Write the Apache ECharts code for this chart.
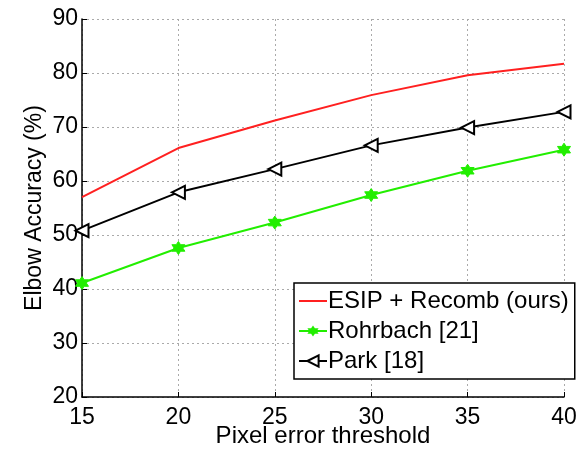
<!DOCTYPE html>
<html>
<head>
<meta charset="utf-8">
<script src="https://cdn.jsdelivr.net/npm/echarts@6/dist/echarts.min.js"></script>
<style>
  html, body { margin: 0; padding: 0; background: #fff; }
  #main { width: 583px; height: 450px; }
</style>
</head>
<body>
<div id="main"></div>
<script>
// 数据
var thresholds = [15, 20, 25, 30, 35, 40];
var esipRecomb = [57.0, 66.1, 71.2, 75.9, 79.6, 81.7];
var rohrbach = [41.1, 47.6, 52.3, 57.4, 61.9, 65.8];
var park = [50.8, 57.9, 62.2, 66.6, 69.9, 72.8];

var seriesNames = ['ESIP + Recomb (ours)', 'Rohrbach [21]', 'Park [18]'];

var font = 'Liberation Sans, Arial, sans-serif';
var hexagram = 'path://M0,-10L2.9,-5L8.66,-5L5.8,0L8.66,5L2.9,5L0,10L-2.9,5L-8.66,5L-5.8,0L-8.66,-5L-2.9,-5Z';

function pairs(vals) {
    return thresholds.map(function (x, i) { return [x, vals[i]]; });
}

var myChart = echarts.init(document.getElementById('main'));
var option = {
    animation: false,
    grid: { left: 82, right: 19, top: 19, bottom: 53, containLabel: false, outerBoundsMode: 'none' },
    legend: {
        orient: 'vertical',
        left: 294,
        top: 283,
        width: 279,
        padding: [6, 6, 6, 4],
        borderColor: '#000',
        borderWidth: 1.5,
        backgroundColor: '#fff',
        itemWidth: 28,
        itemHeight: 14,
        itemGap: 6,
        textStyle: { fontFamily: font, fontSize: 24, color: '#000', padding: [0, 0, 0, -4] },
        data: [
            { name: seriesNames[0], itemStyle: { opacity: 0 } },
            { name: seriesNames[1] },
            { name: seriesNames[2] }
        ]
    },
    xAxis: {
        type: 'value',
        min: 15, max: 40, interval: 5,
        name: 'Pixel error threshold',
        nameLocation: 'middle',
        nameGap: 27,
        nameMoveOverlap: false,
        nameTextStyle: { fontFamily: font, fontSize: 24, color: '#000' },
        axisLine: { lineStyle: { color: '#000', width: 1.5 } },
        axisTick: { inside: true, length: 5, lineStyle: { color: '#000' } },
        axisLabel: { fontFamily: font, fontSize: 23, color: '#000', margin: 9 },
        splitLine: { show: true, lineStyle: { color: '#aaa', type: [2, 3], width: 1 } }
    },
    yAxis: {
        type: 'value',
        min: 20, max: 90, interval: 10,
        name: 'Elbow Accuracy (%)',
        nameLocation: 'middle',
        nameGap: 36,
        nameMoveOverlap: false,
        nameTextStyle: { fontFamily: font, fontSize: 23, color: '#000' },
        axisLine: { show: true, lineStyle: { color: '#000', width: 1.5 } },
        axisTick: { show: true, inside: true, length: 5, lineStyle: { color: '#000' } },
        axisLabel: { fontFamily: font, fontSize: 23, color: '#000', margin: 4 },
        splitLine: { show: true, lineStyle: { color: '#aaa', type: [2, 3], width: 1 } }
    },
    series: [
        {
            name: seriesNames[0], type: 'line', data: pairs(esipRecomb),
            showSymbol: false, symbol: 'none',
            lineStyle: { color: '#ff2020', width: 2 },
            itemStyle: { color: '#ff2020' }
        },
        {
            name: seriesNames[1], type: 'line', data: pairs(rohrbach),
            symbol: hexagram, symbolSize: 13,
            lineStyle: { color: '#22ee00', width: 2 },
            itemStyle: { color: '#22ee00', borderColor: '#22ee00' }
        },
        {
            name: seriesNames[2], type: 'line', data: pairs(park),
            symbol: 'emptyTriangle', symbolRotate: 90, symbolSize: 13,
            lineStyle: { color: '#000', width: 2 },
            itemStyle: { color: '#000', borderColor: '#000', borderWidth: 1.5 }
        }
    ]
};
myChart.setOption(option);
</script>
</body>
</html>
